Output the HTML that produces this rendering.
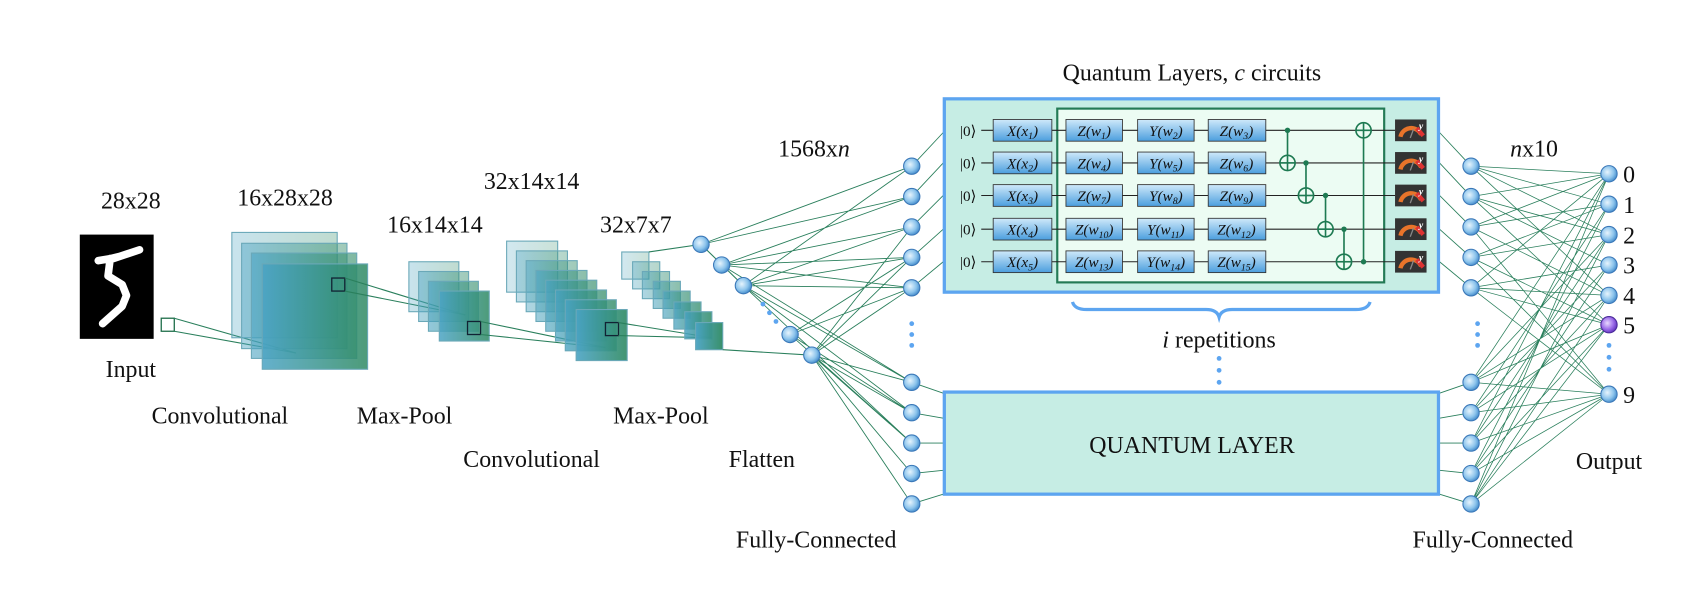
<!DOCTYPE html>
<html><head><meta charset="utf-8"><style>
html,body{margin:0;padding:0;background:#fff;}
svg{display:block;}
text{font-family:"Liberation Serif",serif;fill:#111;}
</style></head><body>
<svg width="1704" height="593" viewBox="0 0 1568 546" xmlns="http://www.w3.org/2000/svg">
<defs>
<linearGradient id="fm" x1="0" x2="1" y1="0" y2="0"><stop offset="0" stop-color="#4aa3c4"/><stop offset="1" stop-color="#2e8a62"/></linearGradient>
<radialGradient id="nd" cx="0.4" cy="0.4" r="0.65"><stop offset="0" stop-color="#e6f4fd"/><stop offset="0.6" stop-color="#8cc4ec"/><stop offset="1" stop-color="#3d86c8"/></radialGradient>
<radialGradient id="np" cx="0.4" cy="0.4" r="0.65"><stop offset="0" stop-color="#e8d8ff"/><stop offset="0.6" stop-color="#9a6ae8"/><stop offset="1" stop-color="#5a2fb8"/></radialGradient>
<linearGradient id="gb" x1="0" x2="0" y1="0" y2="1"><stop offset="0" stop-color="#cfe9fa"/><stop offset="1" stop-color="#4b9ede"/></linearGradient>
<g id="node"><circle r="7.5" fill="url(#nd)" stroke="#3b78b8" stroke-width="1"/></g>
<g id="meter"><rect x="0" y="0" width="29" height="20" fill="#333"/><path d="M5 16 A10 10 0 0 1 24 14" stroke="#e8742a" stroke-width="4" fill="none"/><path d="M20 8 L26 15" stroke="#d33" stroke-width="4"/><line x1="14" y1="17" x2="17" y2="9" stroke="#888" stroke-width="1.2"/><text x="22" y="9" font-size="9" style="fill:#fff;font-weight:bold;font-style:italic">y</text></g>
</defs>

<g font-size="22" text-anchor="middle">
<text x="120" y="192">28x28</text>
<text x="262" y="189">16x28x28</text>
<text x="400" y="214">16x14x14</text>
<text x="489" y="174">32x14x14</text>
<text x="585" y="214">32x7x7</text>
<text x="120" y="347">Input</text>
<text x="202" y="390">Convolutional</text>
<text x="372" y="390">Max-Pool</text>
<text x="608" y="390">Max-Pool</text>
<text x="489" y="430">Convolutional</text>
<text x="701" y="430">Flatten</text>
<text x="749" y="144">1568x<tspan font-style="italic">n</tspan></text>
<text x="751" y="504">Fully-Connected</text>
<text x="1374" y="504">Fully-Connected</text>
<text x="1481" y="432">Output</text>
<text x="1412" y="144"><tspan font-style="italic">n</tspan>x10</text>
<text x="1097" y="74">Quantum Layers, <tspan font-style="italic">c</tspan> circuits</text>
<text x="1122" y="320"><tspan font-style="italic">i</tspan> repetitions</text>
</g>

<rect x="73" y="216" width="68" height="96" fill="#000"/>
<path d="M90 240 L102 238 L110 236 M104 238 L128 230 M101 238 L99 254 L112 262 L116 272 L112 282 L94 298" stroke="#fff" stroke-width="7" fill="none" stroke-linejoin="round" stroke-linecap="round"/>
<rect x="148" y="293" width="12" height="12" fill="none" stroke="#1f6e4a" stroke-width="1.2"/>
<g stroke="#2a7f5c" stroke-width="1"><line x1="160" y1="293" x2="272" y2="325"/><line x1="160" y1="305" x2="272" y2="325"/></g>

<g stroke="#6aa8b8" stroke-width="1">
<rect x="213" y="214" width="97" height="97" fill="url(#fm)" fill-opacity="0.3"/>
<rect x="222" y="224" width="97" height="97" fill="url(#fm)" fill-opacity="0.45"/>
<rect x="231" y="233" width="97" height="97" fill="url(#fm)" fill-opacity="0.6"/>
<rect x="241" y="243" width="97" height="97" fill="url(#fm)" fill-opacity="0.85"/>
</g>
<rect x="305" y="256" width="12" height="12" fill="none" stroke="#123" stroke-width="1.2"/>
<g stroke="#2a7f5c" stroke-width="1"><line x1="317" y1="256" x2="428" y2="290"/><line x1="317" y1="268" x2="428" y2="290"/></g>

<g stroke="#6aa8b8" stroke-width="1">
<rect x="376" y="241" width="46" height="46" fill="url(#fm)" fill-opacity="0.3"/>
<rect x="385" y="250" width="46" height="46" fill="url(#fm)" fill-opacity="0.45"/>
<rect x="394" y="259" width="46" height="46" fill="url(#fm)" fill-opacity="0.6"/>
<rect x="404" y="268" width="46" height="46" fill="url(#fm)" fill-opacity="0.85"/>
</g>
<rect x="430" y="296" width="12" height="12" fill="none" stroke="#123" stroke-width="1.2"/>
<g stroke="#2a7f5c" stroke-width="1"><line x1="442" y1="296" x2="557" y2="320"/><line x1="442" y1="308" x2="557" y2="320"/></g>

<g stroke="#6aa8b8" stroke-width="1">
<rect x="466" y="222" width="47" height="47" fill="url(#fm)" fill-opacity="0.25"/>
<rect x="475" y="231" width="47" height="47" fill="url(#fm)" fill-opacity="0.35"/>
<rect x="484" y="240" width="47" height="47" fill="url(#fm)" fill-opacity="0.45"/>
<rect x="493" y="249" width="47" height="47" fill="url(#fm)" fill-opacity="0.55"/>
<rect x="502" y="258" width="47" height="47" fill="url(#fm)" fill-opacity="0.65"/>
<rect x="511" y="267" width="47" height="47" fill="url(#fm)" fill-opacity="0.72"/>
<rect x="520" y="276" width="47" height="47" fill="url(#fm)" fill-opacity="0.8"/>
<rect x="530" y="285" width="47" height="47" fill="url(#fm)" fill-opacity="0.9"/>
</g>
<rect x="557" y="297" width="12" height="12" fill="none" stroke="#123" stroke-width="1.2"/>
<g stroke="#2a7f5c" stroke-width="1"><line x1="569" y1="297" x2="655" y2="311"/><line x1="569" y1="309" x2="655" y2="311"/></g>

<g stroke="#6aa8b8" stroke-width="1">
<rect x="572" y="232" width="25" height="25" fill="url(#fm)" fill-opacity="0.25"/>
<rect x="582" y="241" width="25" height="25" fill="url(#fm)" fill-opacity="0.35"/>
<rect x="591" y="250" width="25" height="25" fill="url(#fm)" fill-opacity="0.45"/>
<rect x="601" y="259" width="25" height="25" fill="url(#fm)" fill-opacity="0.55"/>
<rect x="610" y="268" width="25" height="25" fill="url(#fm)" fill-opacity="0.65"/>
<rect x="620" y="278" width="25" height="25" fill="url(#fm)" fill-opacity="0.75"/>
<rect x="630" y="287" width="25" height="25" fill="url(#fm)" fill-opacity="0.85"/>
<rect x="640" y="297" width="25" height="25" fill="url(#fm)" fill-opacity="0.95"/>
</g>
<g stroke="#2a7f5c" stroke-width="1"><line x1="597" y1="232" x2="645" y2="225"/><line x1="665" y1="322" x2="747" y2="327"/><line x1="645" y1="225" x2="684" y2="263"/></g>

<g stroke="#2a7f5c" stroke-width="0.8">
<path d="M645 225L839 153M645 225L839 181M664 244L839 209M664 244L839 237M664 244L839 265M664 244L839 181M684 263L839 153M684 263L839 209M684 263L839 237M684 263L839 265M684 263L839 352M684 263L839 380M684 263L839 408M727 308L839 237M727 308L839 265M727 308L839 380M727 308L839 408M747 327L839 209M747 327L839 237M747 327L839 265M747 327L839 352M747 327L839 380M747 327L839 408M747 327L839 436M747 327L839 464M664 244L839 352"/>
</g>
<g fill="#5da5f0"><circle cx="702" cy="280" r="2.2"/><circle cx="708" cy="288" r="2.2"/><circle cx="714" cy="296" r="2.2"/></g>
<use href="#node" x="645" y="225"/><use href="#node" x="664" y="244"/><use href="#node" x="684" y="263"/><use href="#node" x="727" y="308"/><use href="#node" x="747" y="327"/>

<g stroke="#2a7f5c" stroke-width="0.8">
<path d="M839 153L868 122M839 181L868 150M839 209L868 180M839 237L868 211M839 265L868 241M839 352L868 362M839 380L868 385M839 408L868 408M839 436L868 433M839 464L868 455"/>
<path d="M1325 122L1354 153M1325 150L1354 181M1325 180L1354 209M1325 211L1354 237M1325 241L1354 265M1325 362L1354 352M1325 385L1354 380M1325 408L1354 408M1325 433L1354 436M1325 455L1354 464"/>
</g>

<g stroke="#2a7f5c" stroke-width="0.7">
<path d="M1354 153L1481 160M1354 153L1481 188M1354 153L1481 216M1354 153L1481 272M1354 181L1481 160M1354 181L1481 216M1354 181L1481 244M1354 181L1481 299M1354 209L1481 160M1354 209L1481 188M1354 209L1481 272M1354 209L1481 363M1354 237L1481 188M1354 237L1481 216M1354 237L1481 299M1354 237L1481 363M1354 265L1481 160M1354 265L1481 244M1354 265L1481 272M1354 265L1481 299M1354 265L1481 363
M1354 352L1481 160M1354 352L1481 216M1354 352L1481 272M1354 352L1481 299M1354 352L1481 363M1354 380L1481 188M1354 380L1481 244M1354 380L1481 299M1354 380L1481 363M1354 408L1481 160M1354 408L1481 216M1354 408L1481 272M1354 408L1481 363M1354 436L1481 188M1354 436L1481 244M1354 436L1481 299M1354 436L1481 363M1354 464L1481 160M1354 464L1481 216M1354 464L1481 272M1354 464L1481 299M1354 464L1481 363"/>
</g>

<g>
<use href="#node" x="839" y="153"/><use href="#node" x="839" y="181"/><use href="#node" x="839" y="209"/><use href="#node" x="839" y="237"/><use href="#node" x="839" y="265"/>
<use href="#node" x="839" y="352"/><use href="#node" x="839" y="380"/><use href="#node" x="839" y="408"/><use href="#node" x="839" y="436"/><use href="#node" x="839" y="464"/>
<use href="#node" x="1354" y="153"/><use href="#node" x="1354" y="181"/><use href="#node" x="1354" y="209"/><use href="#node" x="1354" y="237"/><use href="#node" x="1354" y="265"/>
<use href="#node" x="1354" y="352"/><use href="#node" x="1354" y="380"/><use href="#node" x="1354" y="408"/><use href="#node" x="1354" y="436"/><use href="#node" x="1354" y="464"/>
<use href="#node" x="1481" y="160"/><use href="#node" x="1481" y="188"/><use href="#node" x="1481" y="216"/><use href="#node" x="1481" y="244"/><use href="#node" x="1481" y="272"/>
<circle cx="1481" cy="299" r="7.5" fill="url(#np)" stroke="#4a2a9a"/>
<use href="#node" x="1481" y="363"/>
</g>
<g fill="#5da5f0">
<circle cx="839" cy="298" r="2.2"/><circle cx="839" cy="308" r="2.2"/><circle cx="839" cy="318" r="2.2"/>
<circle cx="1360" cy="298" r="2.2"/><circle cx="1360" cy="308" r="2.2"/><circle cx="1360" cy="318" r="2.2"/>
<circle cx="1481" cy="318" r="2.2"/><circle cx="1481" cy="329" r="2.2"/><circle cx="1481" cy="340" r="2.2"/>
<circle cx="1122" cy="330" r="2.2"/><circle cx="1122" cy="341" r="2.2"/><circle cx="1122" cy="352" r="2.2"/>
</g>
<g font-size="22"><text x="1494" y="168">0</text><text x="1494" y="196">1</text><text x="1494" y="224">2</text><text x="1494" y="252">3</text><text x="1494" y="280">4</text><text x="1494" y="307">5</text><text x="1494" y="371">9</text></g>

<rect x="869" y="91" width="455" height="178" fill="#c6ede4" stroke="#5da5f0" stroke-width="3"/>
<rect x="973" y="100" width="301" height="160" fill="#ecfcf3" stroke="#237a55" stroke-width="2"/>
<g stroke="#222" stroke-width="1">
<line x1="903" y1="120" x2="1284" y2="120"/><line x1="903" y1="150" x2="1284" y2="150"/><line x1="903" y1="180" x2="1284" y2="180"/><line x1="903" y1="211" x2="1284" y2="211"/><line x1="903" y1="241" x2="1284" y2="241"/>
</g>
<g stroke="#333" stroke-width="0.8" fill="url(#gb)">
<rect x="914" y="110" width="54" height="20"/><rect x="981" y="110" width="52" height="20"/><rect x="1047" y="110" width="52" height="20"/><rect x="1112" y="110" width="53" height="20"/>
<rect x="914" y="140" width="54" height="20"/><rect x="981" y="140" width="52" height="20"/><rect x="1047" y="140" width="52" height="20"/><rect x="1112" y="140" width="53" height="20"/>
<rect x="914" y="170" width="54" height="20"/><rect x="981" y="170" width="52" height="20"/><rect x="1047" y="170" width="52" height="20"/><rect x="1112" y="170" width="53" height="20"/>
<rect x="914" y="201" width="54" height="20"/><rect x="981" y="201" width="52" height="20"/><rect x="1047" y="201" width="52" height="20"/><rect x="1112" y="201" width="53" height="20"/>
<rect x="914" y="231" width="54" height="20"/><rect x="981" y="231" width="52" height="20"/><rect x="1047" y="231" width="52" height="20"/><rect x="1112" y="231" width="53" height="20"/>
</g>
<g font-size="14" text-anchor="middle">
<text x="891" y="125">|0⟩</text><text x="891" y="155">|0⟩</text><text x="891" y="185">|0⟩</text><text x="891" y="216">|0⟩</text><text x="891" y="246">|0⟩</text>
<g font-style="italic">
<text x="941" y="125">X(x<tspan font-size="9" dy="3">1</tspan><tspan dy="-3">)</tspan></text>
<text x="941" y="155">X(x<tspan font-size="9" dy="3">2</tspan><tspan dy="-3">)</tspan></text>
<text x="941" y="185">X(x<tspan font-size="9" dy="3">3</tspan><tspan dy="-3">)</tspan></text>
<text x="941" y="216">X(x<tspan font-size="9" dy="3">4</tspan><tspan dy="-3">)</tspan></text>
<text x="941" y="246">X(x<tspan font-size="9" dy="3">5</tspan><tspan dy="-3">)</tspan></text>
<text x="1007" y="125">Z(w<tspan font-size="9" dy="3">1</tspan><tspan dy="-3">)</tspan></text>
<text x="1073" y="125">Y(w<tspan font-size="9" dy="3">2</tspan><tspan dy="-3">)</tspan></text>
<text x="1138" y="125">Z(w<tspan font-size="9" dy="3">3</tspan><tspan dy="-3">)</tspan></text>
<text x="1007" y="155">Z(w<tspan font-size="9" dy="3">4</tspan><tspan dy="-3">)</tspan></text>
<text x="1073" y="155">Y(w<tspan font-size="9" dy="3">5</tspan><tspan dy="-3">)</tspan></text>
<text x="1138" y="155">Z(w<tspan font-size="9" dy="3">6</tspan><tspan dy="-3">)</tspan></text>
<text x="1007" y="185">Z(w<tspan font-size="9" dy="3">7</tspan><tspan dy="-3">)</tspan></text>
<text x="1073" y="185">Y(w<tspan font-size="9" dy="3">8</tspan><tspan dy="-3">)</tspan></text>
<text x="1138" y="185">Z(w<tspan font-size="9" dy="3">9</tspan><tspan dy="-3">)</tspan></text>
<text x="1007" y="216">Z(w<tspan font-size="9" dy="3">10</tspan><tspan dy="-3">)</tspan></text>
<text x="1073" y="216">Y(w<tspan font-size="9" dy="3">11</tspan><tspan dy="-3">)</tspan></text>
<text x="1138" y="216">Z(w<tspan font-size="9" dy="3">12</tspan><tspan dy="-3">)</tspan></text>
<text x="1007" y="246">Z(w<tspan font-size="9" dy="3">13</tspan><tspan dy="-3">)</tspan></text>
<text x="1073" y="246">Y(w<tspan font-size="9" dy="3">14</tspan><tspan dy="-3">)</tspan></text>
<text x="1138" y="246">Z(w<tspan font-size="9" dy="3">15</tspan><tspan dy="-3">)</tspan></text>
</g></g>
<g stroke="#1e7a52" stroke-width="1.5" fill="none">
<line x1="1185" y1="120" x2="1185" y2="157"/><circle cx="1185" cy="150" r="7"/><line x1="1178" y1="150" x2="1192" y2="150"/>
<line x1="1202" y1="150" x2="1202" y2="187"/><circle cx="1202" cy="180" r="7"/><line x1="1195" y1="180" x2="1209" y2="180"/>
<line x1="1220" y1="180" x2="1220" y2="218"/><circle cx="1220" cy="211" r="7"/><line x1="1213" y1="211" x2="1227" y2="211"/>
<line x1="1237" y1="211" x2="1237" y2="248"/><circle cx="1237" cy="241" r="7"/><line x1="1230" y1="241" x2="1244" y2="241"/>
<line x1="1255" y1="113" x2="1255" y2="241"/><circle cx="1255" cy="120" r="7"/><line x1="1248" y1="120" x2="1262" y2="120"/>
</g>
<g fill="#1e7a52"><circle cx="1185" cy="120" r="2.5"/><circle cx="1202" cy="150" r="2.5"/><circle cx="1220" cy="180" r="2.5"/><circle cx="1237" cy="211" r="2.5"/><circle cx="1255" cy="241" r="2.5"/></g>
<use href="#meter" x="1284" y="110"/><use href="#meter" x="1284" y="140"/><use href="#meter" x="1284" y="170"/><use href="#meter" x="1284" y="201"/><use href="#meter" x="1284" y="231"/>

<path d="M987 278 Q989 285 1000 285 L1110 285 Q1120 285 1122 292 Q1124 285 1134 285 L1248 285 Q1259 285 1261 278" stroke="#5da5f0" stroke-width="3" fill="none"/>

<rect x="869" y="361" width="455" height="94" fill="#c6ede4" stroke="#5da5f0" stroke-width="3"/>
<text x="1097" y="417" font-size="22" text-anchor="middle">QUANTUM LAYER</text>
</svg>
</body></html>
